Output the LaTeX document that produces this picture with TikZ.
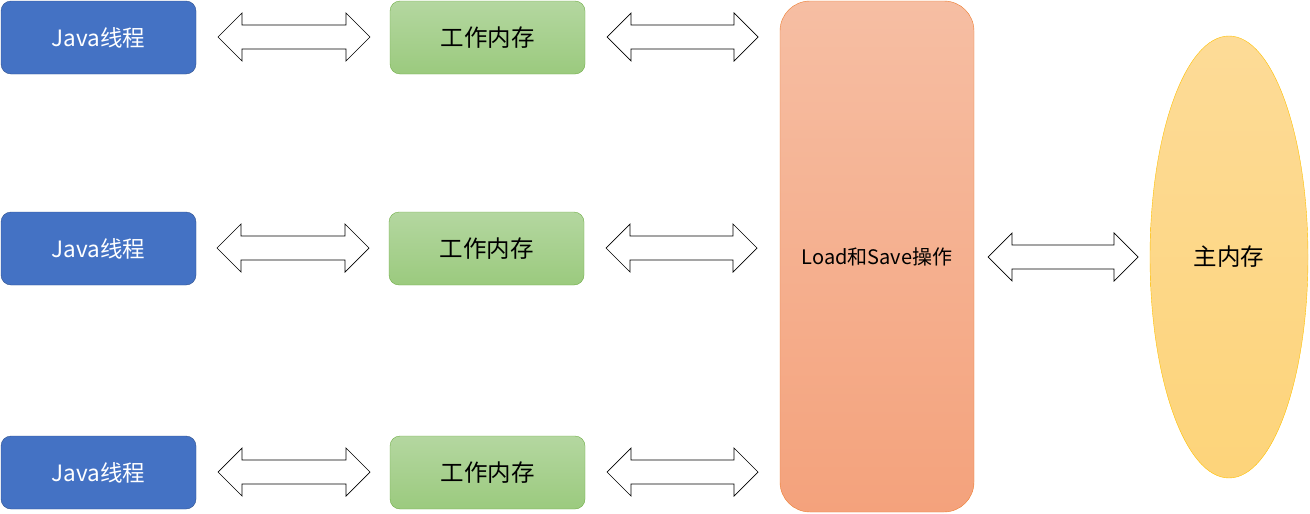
\documentclass[tikz,border=0pt]{standalone}
\usepackage{fontspec}
\setmainfont{Noto Sans CJK SC}
\usetikzlibrary{shapes.geometric}
\definecolor{bluef}{HTML}{4472C4}
\definecolor{blued}{HTML}{2F528F}
\definecolor{greent}{HTML}{B4D7A0}
\definecolor{greenb}{HTML}{9BCA7E}
\definecolor{greend}{HTML}{70AD47}
\definecolor{orat}{HTML}{F6BEA3}
\definecolor{orab}{HTML}{F4A27C}
\definecolor{orad}{HTML}{ED7D31}
\definecolor{yelt}{HTML}{FDDB97}
\definecolor{yelb}{HTML}{FDD47A}
\definecolor{yeld}{HTML}{FFC000}
\tikzset{
  thread/.style={draw=blued, fill=bluef, rounded corners=10pt, minimum width=195pt, minimum height=73pt, text=white, font=\fontsize{22.5}{26}\selectfont, inner sep=0pt},
  work/.style={draw=greend, top color=greent, bottom color=greenb, rounded corners=10pt, minimum width=195pt, minimum height=73pt, font=\fontsize{23.5}{26}\selectfont, inner sep=0pt},
  blockarrow/.style={draw=black, fill=white, line width=0.7pt, line join=miter},
}
\newcommand{\dblarrow}[3]{% left x, right x, center y
  \draw[blockarrow] (#1,#3) -- (#1+24,#3-24) -- (#1+24,#3-12) -- (#2-24,#3-12) -- (#2-24,#3-24) -- (#2,#3) -- (#2-24,#3+24) -- (#2-24,#3+12) -- (#1+24,#3+12) -- (#1+24,#3+24) -- cycle;}
\begin{document}
\begin{tikzpicture}[x=1pt,y=-1pt]
\useasboundingbox (0,0) rectangle (1310,514);
% threads
\node[thread] (t1) at (98.5,37.5) {Java线程};
\node[thread] (t2) at (98.5,248.5) {Java线程};
\node[thread] (t3) at (98.5,472.5) {Java线程};
% work memory
\node[work] (w1) at (487.5,37.5) {工作内存};
\node[work] (w2) at (486.5,248.5) {工作内存};
\node[work] (w3) at (487.5,472.5) {工作内存};
% load/save
\node[draw=orad, top color=orat, bottom color=orab, rounded corners=30pt, minimum width=194pt, minimum height=511pt, inner sep=0pt, font=\fontsize{20}{23}\selectfont] (ls) at (877,256.5) {Load和Save操作};
% main memory
\node[ellipse, draw=yeld, top color=yelt, bottom color=yelb, minimum width=158pt, minimum height=442pt, inner sep=0pt, font=\fontsize{23.5}{26}\selectfont] (mm) at (1229,257) {主内存};
% arrows
\dblarrow{218}{370}{37}
\dblarrow{607}{758}{37}
\dblarrow{217}{369}{248}
\dblarrow{606}{757}{248}
\dblarrow{218}{370}{472}
\dblarrow{607}{758}{472}
\dblarrow{988}{1138}{257}
\end{tikzpicture}
\end{document}
